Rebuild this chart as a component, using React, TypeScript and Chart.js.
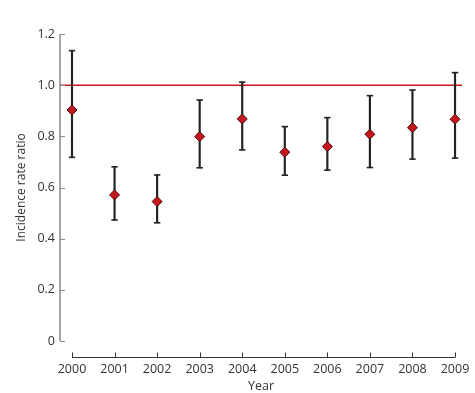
import { useEffect, useRef } from 'react';
import { Chart, registerables } from 'chart.js';

Chart.register(...registerables);

const years = [2000, 2001, 2002, 2003, 2004, 2005, 2006, 2007, 2008, 2009];
const irr = [0.903, 0.571, 0.545, 0.799, 0.868, 0.738, 0.76, 0.808, 0.834, 0.867];
const lower = [0.718, 0.473, 0.462, 0.677, 0.747, 0.648, 0.668, 0.678, 0.711, 0.715];
const upper = [1.135, 0.681, 0.649, 0.942, 1.012, 0.838, 0.873, 0.959, 0.981, 1.049];
const yTicks = [0, 0.2, 0.4, 0.6, 0.8, 1.0, 1.2];
const refValue = 1.0;

const FONT = "'Open Sans', sans-serif";
const TEXT = '#333333';
const SIZE = 12.5;

const axesPlugin = {
  id: 'customAxes',
  beforeDatasetsDraw(chart: any) {
    const { ctx, chartArea, scales } = chart;
    const y = scales.y;
    const py = y.getPixelForValue(refValue);
    ctx.save();
    ctx.strokeStyle = '#d0141c';
    ctx.lineWidth = 1.5;
    ctx.beginPath();
    ctx.moveTo(chartArea.left, py);
    ctx.lineTo(chartArea.right, py);
    ctx.stroke();
    ctx.restore();
  },
  afterDraw(chart: any) {
    const { ctx, chartArea, scales } = chart;
    const x = scales.x;
    const y = scales.y;
    ctx.save();
    // y axis
    ctx.strokeStyle = '#8a8a8a';
    ctx.lineWidth = 1.5;
    const left = chartArea.left;
    const y0 = y.getPixelForValue(yTicks[0]);
    const y1 = y.getPixelForValue(yTicks[yTicks.length - 1]);
    ctx.beginPath();
    ctx.moveTo(left, y0);
    ctx.lineTo(left, y1);
    ctx.stroke();
    ctx.lineWidth = 1;
    for (const v of yTicks) {
      const p = Math.round(y.getPixelForValue(v)) + 0.5;
      ctx.beginPath();
      ctx.moveTo(left, p);
      ctx.lineTo(left + 5, p);
      ctx.stroke();
    }
    // x axis
    const axisY = chartArea.bottom + 16.5;
    ctx.strokeStyle = '#333333';
    ctx.lineWidth = 1.2;
    const xa = x.getPixelForValue(0);
    const xb = x.getPixelForValue(years.length - 1);
    ctx.beginPath();
    ctx.moveTo(xa, axisY);
    ctx.lineTo(xb, axisY);
    ctx.stroke();
    ctx.lineWidth = 1;
    years.forEach((_, i) => {
      const p = Math.round(x.getPixelForValue(i)) + 0.5;
      ctx.beginPath();
      ctx.moveTo(p, axisY);
      ctx.lineTo(p, axisY - 5);
      ctx.stroke();
    });
    ctx.restore();
  },
};

export default function App() {
  const ref = useRef<HTMLCanvasElement | null>(null);
  useEffect(() => {
    document.body.style.margin = '0';
    const canvas = ref.current;
    if (!canvas) return;
    const idx = years.map((_, i) => i);
    const chart = new Chart(canvas, {
      type: 'bar',
      data: {
        datasets: [
          {
            type: 'bar',
            data: idx.map((i) => ({ x: i, y: [lower[i], upper[i]] })) as any,
            backgroundColor: '#222222',
            borderWidth: 0,
            barThickness: 1.5,
            order: 3,
          } as any,
          {
            type: 'line',
            data: idx.flatMap((i) => [
              { x: i, y: lower[i] },
              { x: i, y: upper[i] },
            ]),
            showLine: false,
            pointStyle: 'line',
            pointRadius: 3.2,
            pointBorderWidth: 1.6,
            pointBorderColor: '#222222',
            pointBackgroundColor: '#222222',
            order: 2,
          } as any,
          {
            type: 'line',
            data: idx.map((i) => ({ x: i, y: irr[i] })),
            showLine: false,
            pointStyle: 'rectRot',
            pointRadius: 5,
            pointBorderWidth: 1,
            pointBorderColor: '#4a0c0c',
            pointBackgroundColor: '#c4161c',
            order: 1,
          } as any,
        ],
      },
      options: {
        animation: false,
        responsive: false,
        maintainAspectRatio: false,
        events: [],
        layout: { padding: { left: 0, right: 13, top: 34, bottom: 0 } },
        plugins: { legend: { display: false }, tooltip: { enabled: false } },
        scales: {
          x: {
            type: 'linear',
            offset: false,
            min: -0.282,
            max: 9.164,
            grid: { display: false, drawTicks: false },
            border: { display: false },
            afterBuildTicks: (s: any) => {
              s.ticks = years.map((_, i) => ({ value: i }));
            },
            afterFit: (s: any) => {
              s.height = 52;
              s.paddingLeft = 0;
              s.paddingRight = 0;
            },
            ticks: {
              padding: 21,
              autoSkip: false,
              maxRotation: 0,
              color: TEXT,
              font: { family: FONT, size: SIZE },
              callback: (v: any) => String(years[v as number]),
            },
            title: {
              display: true,
              text: 'Year',
              color: TEXT,
              font: { family: FONT, size: SIZE },
              padding: { top: 0, bottom: -1 },
            },
          },
          y: {
            type: 'linear',
            min: 0,
            max: 1.2,
            grid: { display: false, drawTicks: false },
            border: { display: false },
            afterBuildTicks: (s: any) => {
              s.ticks = yTicks.map((v) => ({ value: v }));
            },
            afterFit: (s: any) => {
              s.width = 60;
            },
            ticks: {
              padding: 5,
              color: TEXT,
              font: { family: FONT, size: SIZE },
              callback: (v: any) => (v === 0 ? '0' : Number(v).toFixed(1)),
            },
            title: {
              display: true,
              text: 'Incidence rate ratio',
              color: TEXT,
              font: { family: FONT, size: 12 },
              padding: { top: 14, bottom: 0 },
            },
          },
        },
      },
      plugins: [axesPlugin],
    } as any);
    return () => chart.destroy();
  }, []);
  return (
    <div style={{ width: 475, height: 393 }}>
      <canvas ref={ref} width={475} height={393} style={{ display: 'block', width: 475, height: 393 }} />
    </div>
  );
}
